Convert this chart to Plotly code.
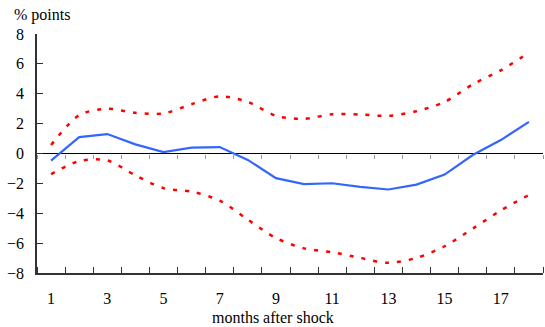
import plotly.graph_objects as go

months = list(range(1, 19))
response = [-0.48, 1.1, 1.3, 0.61, 0.1, 0.39, 0.43, -0.43, -1.65, -2.05, -1.99, -2.23,
            -2.41, -2.08, -1.41, -0.1, 0.9, 2.12]
upper = [0.57, 2.57, 3.0, 2.72, 2.68, 3.3, 3.83, 3.45, 2.52, 2.32, 2.63, 2.61,
         2.52, 2.83, 3.45, 4.63, 5.57, 6.75]
lower = [-1.39, -0.5, -0.46, -1.46, -2.32, -2.55, -3.15, -4.43, -5.66, -6.35, -6.61, -6.99,
         -7.32, -6.99, -6.21, -5.03, -3.81, -2.77]
y_ticks = [-8, -6, -4, -2, 0, 2, 4, 6, 8]
x_tick_labels = [1, 3, 5, 7, 9, 11, 13, 15, 17]

FONT = "Liberation Serif"

fig = go.Figure()
fig.add_trace(go.Scatter(x=months, y=upper, mode="lines",
                         line=dict(color="#ff0000", width=2.5, dash="4px,8px", shape="spline", smoothing=0.8),
                         hoverinfo="skip", showlegend=False))
fig.add_trace(go.Scatter(x=months, y=lower, mode="lines",
                         line=dict(color="#ff0000", width=2.5, dash="4px,8px", shape="spline", smoothing=0.8),
                         hoverinfo="skip", showlegend=False))
fig.add_trace(go.Scatter(x=months, y=response, mode="lines",
                         line=dict(color="#3366ff", width=2.2),
                         showlegend=False))
# invisible trace to carry the zero-line tick axis
fig.add_trace(go.Scatter(x=months, y=response, xaxis="x2", mode="lines",
                         line=dict(width=0), opacity=0, hoverinfo="skip", showlegend=False))

fig.add_hline(y=0, line=dict(color="black", width=1), layer="below")

fig.update_layout(
    width=545, height=327,
    margin=dict(l=37, r=2, t=34, b=54),
    paper_bgcolor="white", plot_bgcolor="white",
    font=dict(family=FONT, size=16, color="black"),
    xaxis=dict(range=[0.5, 18.5], tickvals=x_tick_labels, ticktext=[str(v) for v in x_tick_labels],
               ticks="", showgrid=False, zeroline=False, showline=True, linecolor="#333333",
               linewidth=1.5, ticklabelstandoff=10, automargin=False,
               tickfont=dict(family=FONT, size=16, color="black"),
               minor=dict(tick0=0.5, dtick=1, ticks="inside", ticklen=6, tickcolor="#333333", showgrid=False)),
    xaxis2=dict(range=[0.5, 18.5], overlaying="x", anchor="free", position=0.5, side="bottom",
                showticklabels=False, ticks="", showgrid=False, zeroline=False, showline=False,
                automargin=False,
                minor=dict(tick0=0.5, dtick=1, ticks="outside", ticklen=4, tickcolor="#999999", showgrid=False)),
    yaxis=dict(range=[-8, 8], tickvals=y_ticks, ticks="inside", ticklen=6, tickcolor="#333333",
               showgrid=False, zeroline=False, showline=True, linecolor="#333333", linewidth=1.5,
               ticklabelstandoff=8, automargin=False, tickfont=dict(family=FONT, size=16, color="black")),
    annotations=[
        dict(text="% points", xref="paper", yref="paper", x=-0.05, y=1.08, xanchor="left",
             yanchor="middle", showarrow=False, font=dict(family=FONT, size=16, color="black")),
        dict(text="months after shock", xref="paper", yref="paper", x=0.466, y=-0.186,
             xanchor="center", yanchor="middle", showarrow=False, font=dict(family=FONT, size=16, color="black")),
    ],
)

fig.write_html("out.html", config={"displayModeBar": False},
               post_script="document.body.style.margin='0';document.body.style.padding='0';")
